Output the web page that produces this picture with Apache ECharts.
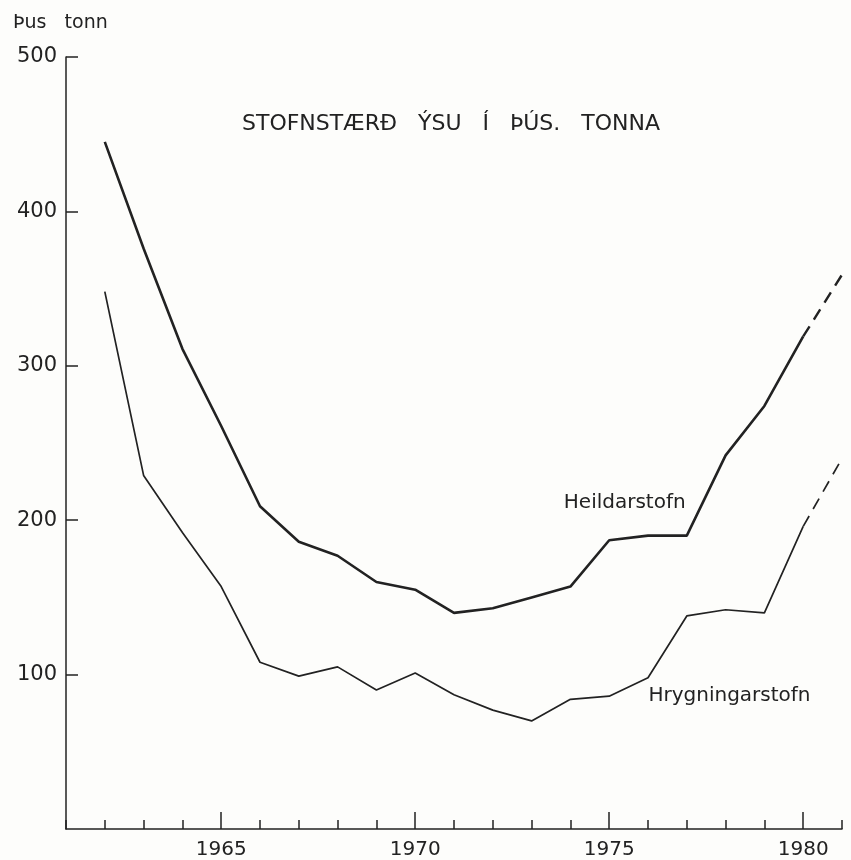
<!DOCTYPE html>
<html>
<head>
<meta charset="utf-8">
<title>Stofnstærð ýsu</title>
<script src="https://cdn.jsdelivr.net/npm/echarts@6/dist/echarts.min.js"></script>
<style>
  html, body { margin: 0; padding: 0; background: #fdfdfb; }
  #main { width: 851px; height: 860px; }
</style>
</head>
<body>
<div id="main"></div>
<script>
// gögn lesin af myndinni (þús. tonna)
var years = [1962, 1963, 1964, 1965, 1966, 1967, 1968, 1969, 1970, 1971,
             1972, 1973, 1974, 1975, 1976, 1977, 1978, 1979, 1980];
var heildarstofn = [445, 376, 311, 261, 209, 186, 177, 160, 155, 140,
                    143, 150, 157, 187, 190, 190, 242, 274, 319];
var hrygningarstofn = [348, 229, 192, 157, 108, 99, 105, 90, 101, 87,
                       77, 70, 84, 86, 98, 138, 142, 140, 196];
// spá (strikalína) 1980 -> 1981
var spaYears = [1980, 1981];
var heildSpa = [319, 359];
var hrygnSpa = [196, 240];
var majorYears = [1965, 1970, 1975, 1980];
var yTicks = [100, 200, 300, 400, 500];

var ink = '#222';
var font = 'DejaVu Sans';

function pairs(xs, ys) {
    return xs.map(function (x, i) { return [x, ys[i]]; });
}

// nafn á línu, sett við hnit í gagnarúmi
function seriesLabel(text, coord) {
    return {
        symbol: 'rect', symbolSize: 1,
        itemStyle: { color: 'rgba(0,0,0,0)' },
        label: { show: true, position: 'inside', formatter: text, color: ink,
                 fontFamily: font, fontSize: 20 },
        data: [{ coord: coord }]
    };
}

var myChart = echarts.init(document.getElementById('main'));

var option = {
    backgroundColor: '#fdfdfb',
    animation: false,
    grid: { left: 66, right: 9, top: 57, bottom: 28, containLabel: false },
    graphic: [
        {
            type: 'text', left: 13, top: 14,
            style: { text: 'Þus   tonn', font: '19px "DejaVu Sans"', fill: ink }
        },
        {
            type: 'text', left: 242, top: 113,
            style: { text: 'STOFNSTÆRÐ   ÝSU   Í   ÞÚS.   TONNA', font: '22px "DejaVu Sans"', fill: ink }
        }
    ],
    xAxis: [
        {
            type: 'value', min: 1961, max: 1981, interval: 1,
            axisLine: { show: true, lineStyle: { color: ink, width: 1.5 } },
            axisTick: { show: true, inside: true, length: 9, lineStyle: { color: ink, width: 1.5 } },
            axisLabel: {
                customValues: majorYears, margin: 11,
                color: ink, fontFamily: font, fontSize: 20,
                formatter: function (v) { return String(v); }
            },
            splitLine: { show: false }
        },
        {
            type: 'value', min: 1961, max: 1981, position: 'bottom',
            axisLine: { show: false },
            axisTick: { show: true, inside: true, length: 17, customValues: majorYears,
                        lineStyle: { color: ink, width: 1.5 } },
            axisLabel: { show: false },
            splitLine: { show: false }
        }
    ],
    yAxis: {
        type: 'value', min: 0, max: 500, interval: 100,
        axisLine: { show: true, lineStyle: { color: ink, width: 1.5 } },
        axisTick: { show: true, inside: true, length: 12, customValues: yTicks,
                    lineStyle: { color: ink, width: 1.5 } },
        axisLabel: {
            customValues: yTicks, margin: 9,
            color: ink, fontFamily: font, fontSize: 21
        },
        splitLine: { show: false }
    },
    series: [
        {
            name: 'Heildarstofn', type: 'line', xAxisIndex: 0,
            data: pairs(years, heildarstofn),
            showSymbol: false, symbol: 'none',
            lineStyle: { color: ink, width: 2.6 },
            markPoint: seriesLabel('Heildarstofn', [1975.4, 211])
        },
        {
            name: 'Hrygningarstofn', type: 'line', xAxisIndex: 0,
            data: pairs(years, hrygningarstofn),
            showSymbol: false, symbol: 'none',
            lineStyle: { color: ink, width: 1.7 },
            markPoint: seriesLabel('Hrygningarstofn', [1978.1, 86])
        },
        {
            name: 'Heildarstofn spá', type: 'line', xAxisIndex: 0,
            data: pairs(spaYears, heildSpa),
            showSymbol: false, symbol: 'none',
            lineStyle: { color: ink, width: 2.4, type: [12, 8] }
        },
        {
            name: 'Hrygningarstofn spá', type: 'line', xAxisIndex: 0,
            data: pairs(spaYears, hrygnSpa),
            showSymbol: false, symbol: 'none',
            lineStyle: { color: ink, width: 1.7, type: [12, 8] }
        }
    ]
};
myChart.setOption(option);
</script>
</body>
</html>
